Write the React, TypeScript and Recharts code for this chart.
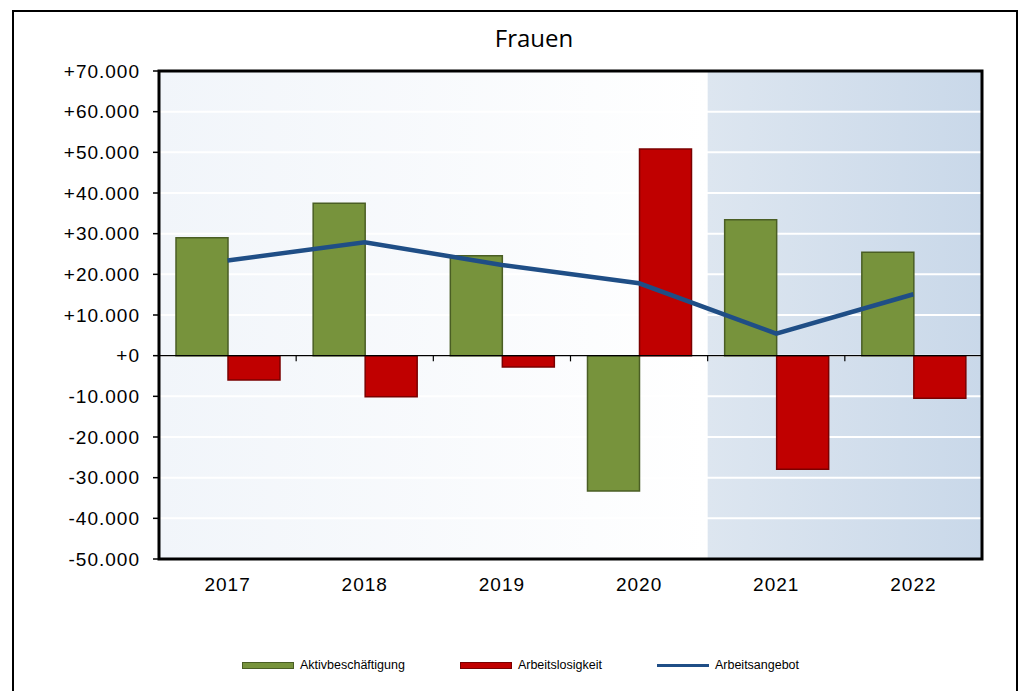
import {
  Bar,
  CartesianGrid,
  ComposedChart,
  Legend,
  Line,
  ReferenceArea,
  ReferenceLine,
  XAxis,
  YAxis,
} from "recharts";

const years = ["2017", "2018", "2019", "2020", "2021", "2022"];
const aktivbeschaeftigung = [29000, 37500, 24600, -33300, 33400, 25400];
const arbeitslosigkeit = [-6000, -10100, -2800, 50800, -27900, -10500];
const arbeitsangebot = [23400, 27900, 22300, 17800, 5400, 15100];
const yTicks = [-50000, -40000, -30000, -20000, -10000, 0, 10000, 20000, 30000, 40000, 50000, 60000, 70000];
const pastYears = ["2017", "2020"];
const forecastYears = ["2021", "2022"];

const data = years.map((year, i) => ({
  year,
  aktiv: aktivbeschaeftigung[i],
  arbeitslos: arbeitslosigkeit[i],
  angebot: arbeitsangebot[i],
}));

const GREEN = "#77933c";
const GREEN_DARK = "#4a5e24";
const RED = "#c00000";
const RED_DARK = "#7a0000";
const BLUE = "#1f4e86";

const AXIS_FONT = "'Liberation Sans', Arial, sans-serif";

const formatTick = (v: number) => {
  const s = Math.abs(v).toString().replace(/\B(?=(\d{3})+(?!\d))/g, ".");
  if (v > 0) return "+" + s;
  if (v < 0) return "-" + s;
  return "+0";
};

const legendItems = [
  { label: "Aktivbeschäftigung", type: "rect", fill: GREEN, stroke: GREEN_DARK },
  { label: "Arbeitslosigkeit", type: "rect", fill: RED, stroke: RED_DARK },
  { label: "Arbeitsangebot", type: "line", fill: BLUE, stroke: BLUE },
];

const LegendContent = () => (
  <div
    style={{
      display: "flex",
      justifyContent: "center",
      alignItems: "center",
      gap: 55,
      paddingLeft: 13,
      fontFamily: AXIS_FONT,
      fontSize: 12.5,
      color: "#000",
      height: 16,
    }}
  >
    {legendItems.map((item) => (
      <div key={item.label} style={{ display: "flex", alignItems: "center" }}>
        {item.type === "rect" ? (
          <div
            style={{
              width: 50,
              height: 5,
              background: item.fill,
              border: `1px solid ${item.stroke}`,
              marginRight: 6,
            }}
          />
        ) : (
          <div style={{ width: 52, height: 3, background: item.fill, marginRight: 6 }} />
        )}
        <span>{item.label}</span>
      </div>
    ))}
  </div>
);

export default function App() {
  return (
    <div
      style={{
        position: "absolute",
        left: 12,
        top: 10,
        width: 1006,
        height: 700,
        border: "2.5px solid #000",
        boxSizing: "border-box",
        background: "#fff",
      }}
    >
      <div
        style={{
          position: "absolute",
          left: 420,
          top: 14,
          width: 200,
          textAlign: "center",
          fontFamily: "'Open Sans', sans-serif",
          fontSize: 24,
          lineHeight: "24px",
          color: "#000",
        }}
      >
        Frauen
      </div>
      <div style={{ position: "absolute", left: 0, top: 0 }}>
        <ComposedChart
          width={1000}
          height={680}
          data={data}
          margin={{ top: 59, right: 32, bottom: 93, left: 0 }}
          barCategoryGap={17}
          barGap={0}
        >
          <defs>
            <linearGradient id="bgPast" x1="0" y1="0" x2="1" y2="0">
              <stop offset="0%" stopColor="#f1f5fa" />
              <stop offset="100%" stopColor="#ffffff" />
            </linearGradient>
            <linearGradient id="bgForecast" x1="0" y1="0" x2="1" y2="0">
              <stop offset="0%" stopColor="#dde6f0" />
              <stop offset="100%" stopColor="#c9d8e9" />
            </linearGradient>
          </defs>
          <ReferenceArea
            x1={pastYears[0]}
            x2={pastYears[1]}
            y1={-50000}
            y2={70000}
            fill="url(#bgPast)"
            fillOpacity={1}
            stroke="none"
            zIndex={-300}
          />
          <ReferenceArea
            x1={forecastYears[0]}
            x2={forecastYears[1]}
            y1={-50000}
            y2={70000}
            fill="url(#bgForecast)"
            fillOpacity={1}
            stroke="none"
            zIndex={-300}
          />
          <CartesianGrid vertical={false} stroke="#ffffff" strokeWidth={2} zIndex={-200} />
          <XAxis
            dataKey="year"
            axisLine={false}
            tickLine={false}
            tickSize={0}
            tickMargin={19}
            height={40}
            interval={0}
            tick={{ fontFamily: AXIS_FONT, fontSize: 19, fill: "#000", letterSpacing: 1 }}
          />
          <YAxis
            domain={[-50000, 70000]}
            ticks={yTicks}
            interval={0}
            allowDataOverflow
            width={145}
            axisLine={false}
            tickLine={{ stroke: "#000", strokeWidth: 1.5 }}
            tickSize={6}
            tickMargin={13}
            tickFormatter={formatTick}
            tick={{ fontFamily: AXIS_FONT, fontSize: 19, fill: "#000", letterSpacing: 1 }}
          />
          <Bar
            dataKey="aktiv"
            name="Aktivbeschäftigung"
            fill={GREEN}
            stroke={GREEN_DARK}
            strokeWidth={1.5}
            isAnimationActive={false}
          />
          <Bar
            dataKey="arbeitslos"
            name="Arbeitslosigkeit"
            fill={RED}
            stroke={RED_DARK}
            strokeWidth={1.5}
            isAnimationActive={false}
          />
          <ReferenceLine y={0} stroke="#000" strokeWidth={1.2} zIndex={500} />
          {years.slice(1).map((y) => (
            <ReferenceLine
              key={y}
              position="start"
              segment={[
                { x: y, y: 0 },
                { x: y, y: -1400 },
              ]}
              stroke="#000"
              strokeWidth={1.2}
              zIndex={500}
            />
          ))}
          <Line
            dataKey="angebot"
            name="Arbeitsangebot"
            type="linear"
            stroke={BLUE}
            strokeWidth={4.5}
            dot={false}
            activeDot={false}
            isAnimationActive={false}
            zIndex={550}
          />
          <ReferenceArea
            y1={-50000}
            y2={70000}
            fill="none"
            fillOpacity={0}
            stroke="#000"
            strokeWidth={3}
            zIndex={600}
          />
          <Legend
            verticalAlign="middle"
            align="center"
            layout="horizontal"
            content={LegendContent}
            wrapperStyle={{ top: 645, left: 0, width: 1000 }}
          />
        </ComposedChart>
      </div>
    </div>
  );
}
